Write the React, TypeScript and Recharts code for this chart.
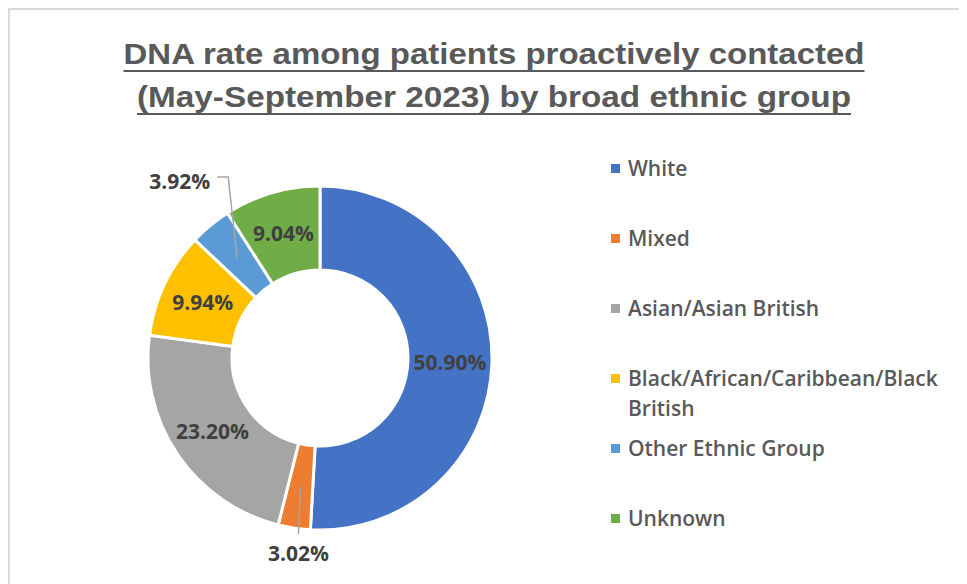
import { PieChart, Pie, Cell, Legend } from 'recharts'

const categories = [
  'White',
  'Mixed',
  'Asian/Asian British',
  'Black/African/Caribbean/Black British',
  'Other Ethnic Group',
  'Unknown',
]
const rates = [50.9, 3.02, 23.2, 9.94, 3.92, 9.04]
const colors = ['#4472C4', '#ED7D31', '#A5A5A5', '#FFC000', '#5B9BD5', '#70AD47']
const titleLines = ['DNA rate among patients proactively contacted', '(May-September 2023) by broad ethnic group']

const RADIAN = Math.PI / 180
const FONT = '"Open Sans", "Noto Sans", sans-serif'

const renderLabel = (props: any) => {
  const { cx, cy, midAngle, innerRadius, outerRadius, value, index } = props
  const r = (innerRadius + outerRadius) / 2
  const x = cx + r * Math.cos(-midAngle * RADIAN)
  const y = cy + r * Math.sin(-midAngle * RADIAN)
  const text = `${value.toFixed(2)}%`
  const style = { fontFamily: FONT, fontSize: 21, fontWeight: 700, fill: '#404040' }

  if (value >= 5) {
    return (
      <text key={index} x={x} y={y} textAnchor="middle" dominantBaseline="central" style={style}>
        {text}
      </text>
    )
  }
  if (y < cy) {
    const ly = cy - outerRadius - 9
    return (
      <g key={index}>
        <polyline points={`${x},${y} ${x - 9},${ly} ${x - 20},${ly}`} fill="none" stroke="#A6A6A6" strokeWidth={1.5} />
        <text x={x - 27} y={ly + 4} textAnchor="end" dominantBaseline="central" style={style}>
          {text}
        </text>
      </g>
    )
  }
  const ly = cy + outerRadius + 4
  return (
    <g key={index}>
      <line x1={x} y1={y} x2={x - 2} y2={ly} stroke="#A6A6A6" strokeWidth={1.5} />
      <text x={x - 2} y={ly + 19} textAnchor="middle" dominantBaseline="central" style={style}>
        {text}
      </text>
    </g>
  )
}

const renderLegend = () => (
  <div style={{ fontFamily: FONT, fontSize: 21, fontWeight: 600, color: '#595959' }}>
    {categories.map((c, i) => (
      <div key={c} style={{ display: 'flex', alignItems: 'flex-start', height: 70 }}>
        <span
          style={{
            display: 'inline-block',
            width: 9,
            height: 9,
            background: colors[i],
            marginTop: 11,
            marginRight: 8,
            flexShrink: 0,
          }}
        />
        <span style={{ lineHeight: '30px', width: 330 }}>{c}</span>
      </div>
    ))}
  </div>
)

export default function App() {
  const data = categories.map((name, i) => ({ name, value: rates[i] }))

  return (
    <div
      style={{
        position: 'relative',
        width: 957,
        height: 574,
        borderLeft: '2px solid #D9D9D9',
        borderTop: '2px solid #D9D9D9',
        background: '#fff',
        overflow: 'hidden',
      }}
    >
      <svg width={957} height={130} style={{ position: 'absolute', left: 0, top: 0 }}>
        {titleLines.map((t, i) => {
          const widths = [741, 714]
          const baseY = [54, 97][i]
          const cxT = 484
          return (
            <g key={t}>
              <text
                x={cxT}
                y={baseY}
                textAnchor="middle"
                textLength={widths[i]}
                lengthAdjust="spacingAndGlyphs"
                style={{ fontFamily: '"Liberation Sans Narrow", "Liberation Sans", Arial, sans-serif', fontSize: 30, fontWeight: 700, fill: '#595959' }}
              >
                {t}
              </text>
              <line x1={cxT - widths[i] / 2} x2={cxT + widths[i] / 2} y1={baseY + 7} y2={baseY + 7} stroke="#595959" strokeWidth={2} />
            </g>
          )
        })}
      </svg>
      <PieChart width={957} height={574} margin={{ top: 0, right: 0, bottom: 0, left: 0 }}>
        <Pie
          data={data}
          dataKey="value"
          nameKey="name"
          cx={310}
          cy={348}
          innerRadius={88}
          outerRadius={172}
          startAngle={90}
          endAngle={-270}
          stroke="#fff"
          strokeWidth={3}
          label={renderLabel}
          labelLine={false}
          isAnimationActive={false}
        >
          {data.map((d, i) => (
            <Cell key={d.name} fill={colors[i]} />
          ))}
        </Pie>
        <Legend
          layout="vertical"
          align="right"
          verticalAlign="top"
          content={renderLegend}
          wrapperStyle={{ left: 601, top: 143, width: 350 }}
        />
      </PieChart>
    </div>
  )
}
